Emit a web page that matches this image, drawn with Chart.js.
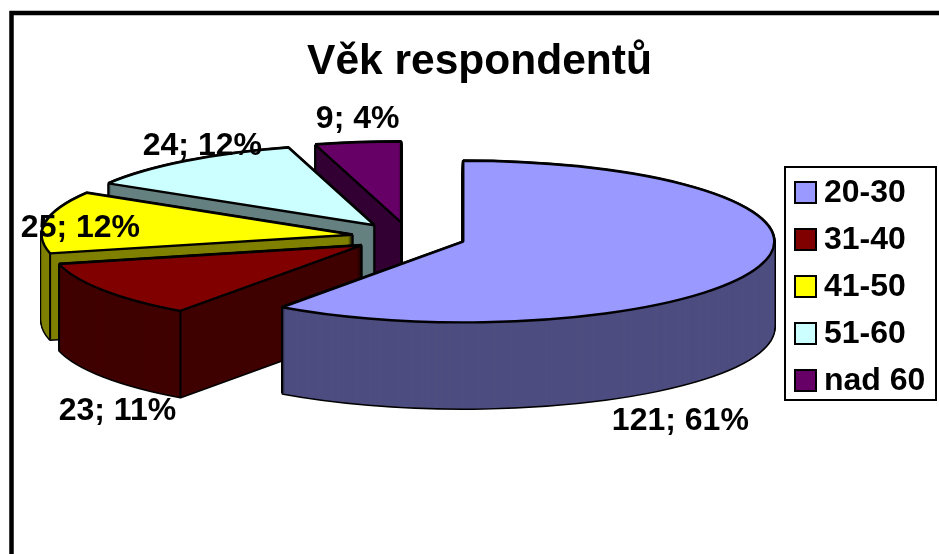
<!DOCTYPE html>
<html><head><meta charset="utf-8">
<style>html,body{margin:0;padding:0;background:#fff;overflow:hidden}canvas{display:block}</style>
<script src="https://cdn.jsdelivr.net/npm/chart.js@4"></script>
</head><body><canvas id="c" width="939" height="554"></canvas>
<script>
const categories = ['20-30','31-40','41-50','51-60','nad 60'];
const values = [121,23,25,24,9];
const percents = [61,11,12,12,4];
const topColors = ['#9999ff','#800000','#ffff00','#ccffff','#660066'];
const sideColors = ['#4d4d80','#400000','#808000','#668080','#330033'];
const labelNudge = [[-79,155],[14,121],[35,6],[17,-15],[0,-23]];

const TILT = 0.26, DEPTH = 86, CX = 409, CY = 237, RADIUS = 311, EXPLODE = 57;
const FONT = 'bold 32px "Liberation Sans", Arial, sans-serif';

const pie3d = {
  id:'pie3d',
  afterLayout(chart){
    const t = chart.titleBlock;
    t.left = 20; t.right = 939; t.top = 37; t.bottom = 87;
    const l = chart.legend, pad = 15;
    l.left = 795-pad; l.top = 161.5; l.right = 938; l.bottom = 520; l.width = l.right-l.left; l.height = l.bottom-l.top;
    if(!l._shifted){
      l._shifted = true;
      const orig = l.draw.bind(l);
      l.draw = function(a){
        const ctx = l.ctx, ft = ctx.fillText;
        ctx.fillText = function(s,x,y,m){ return m===undefined ? ft.call(ctx,s,x-8,y+1) : ft.call(ctx,s,x-8,y+1,m); };
        orig(a);
        delete ctx.fillText;
      };
    }
  },
  beforeDatasetDraw(chart,args){
    const ctx = chart.ctx, arcs = args.meta.data;
    const strokeProto = CanvasRenderingContext2D.prototype.stroke;
    ctx.stroke = function(){
      const m = ctx.getTransform();
      ctx.setTransform(1,0,0,1,0,0);
      strokeProto.call(ctx);
      ctx.setTransform(m);
    };
    const drawAs = (el,opts,ax,ay,dy)=>{
      const saved = el.options;
      el.options = Object.assign({},saved,opts);
      ctx.save();
      ctx.setTransform(1,0,0,TILT,ax-el.x,ay+dy-el.y*TILT);
      el.draw(ctx);
      ctx.restore();
      el.options = saved;
    };
    const EPS = 1e-6;
    for(let i=arcs.length-1;i>=0;i--){
      const el = arcs[i];
      const mid = (el.startAngle+el.endAngle)/2, R = el.outerRadius;
      const ax = CX+EXPLODE*Math.cos(mid), ay = CY+EXPLODE*Math.sin(mid)*TILT;
      for(let d=DEPTH;d>=0;d-=1) drawAs(el,{backgroundColor:'#000',borderColor:'#000',borderWidth:3},ax,ay,d);
      for(let d=DEPTH;d>=0;d-=1) drawAs(el,{backgroundColor:sideColors[i],borderWidth:0},ax,ay,d);
      // vertical edges only where an adjacent face looks toward the viewer
      const startFace = -Math.cos(el.startAngle) > EPS, endFace = Math.cos(el.endAngle) > EPS;
      const pts = [];
      if(startFace || endFace) pts.push([ax,ay]);
      if(startFace || Math.sin(el.startAngle) > EPS) pts.push([ax+R*Math.cos(el.startAngle),ay+R*Math.sin(el.startAngle)*TILT]);
      if(endFace || Math.sin(el.endAngle) > EPS) pts.push([ax+R*Math.cos(el.endAngle),ay+R*Math.sin(el.endAngle)*TILT]);
      ctx.save(); ctx.strokeStyle='#000'; ctx.lineWidth=2;
      pts.forEach(p=>{ctx.beginPath();ctx.moveTo(p[0],p[1]);ctx.lineTo(p[0],p[1]+DEPTH);strokeProto.call(ctx);});
      ctx.restore();
      drawAs(el,{backgroundColor:topColors[i],borderColor:'#000',borderWidth:2.4},ax,ay,0);
    }
    delete ctx.stroke;
    return false;
  },
  afterDraw(chart){
    const ctx = chart.ctx, arcs = chart.getDatasetMeta(0).data;
    ctx.save();
    ctx.strokeStyle='#000';
    ctx.lineWidth=4.5; ctx.strokeRect(11.5,13,1000,1000);
    ctx.lineWidth=2; ctx.strokeRect(785,167,151,233);
    ctx.font=FONT; ctx.fillStyle='#000'; ctx.textAlign='center'; ctx.textBaseline='middle';
    arcs.forEach((el,i)=>{
      const mid = (el.startAngle+el.endAngle)/2, r = EXPLODE+el.outerRadius;
      const x = CX+r*Math.cos(mid)+labelNudge[i][0];
      const y = CY+r*Math.sin(mid)*TILT+labelNudge[i][1];
      ctx.fillText(values[i]+'; '+percents[i]+'%',x,y);
    });
    ctx.restore();
  }
};

new Chart(document.getElementById('c'),{
  type:'pie',
  data:{labels:categories,datasets:[{
    data:values,
    backgroundColor:topColors,
    borderColor:'#000',
    borderWidth:2,
    radius:RADIUS
  }]},
  options:{
    responsive:false,
    animation:false,
    layout:{padding:0},
    plugins:{
      tooltip:{enabled:false},
      title:{display:true,text:'Věk respondentů',color:'#000',padding:0,
        font:{family:'"Liberation Sans", Arial, sans-serif',size:42.5,weight:'bold'}},
      legend:{display:true,position:'right',align:'start',
        labels:{color:'#000',boxWidth:21,boxHeight:21,padding:15,
          font:{family:'"Liberation Sans", Arial, sans-serif',size:32,weight:'bold'}}}
    }
  },
  plugins:[pie3d]
});
</script></body></html>
